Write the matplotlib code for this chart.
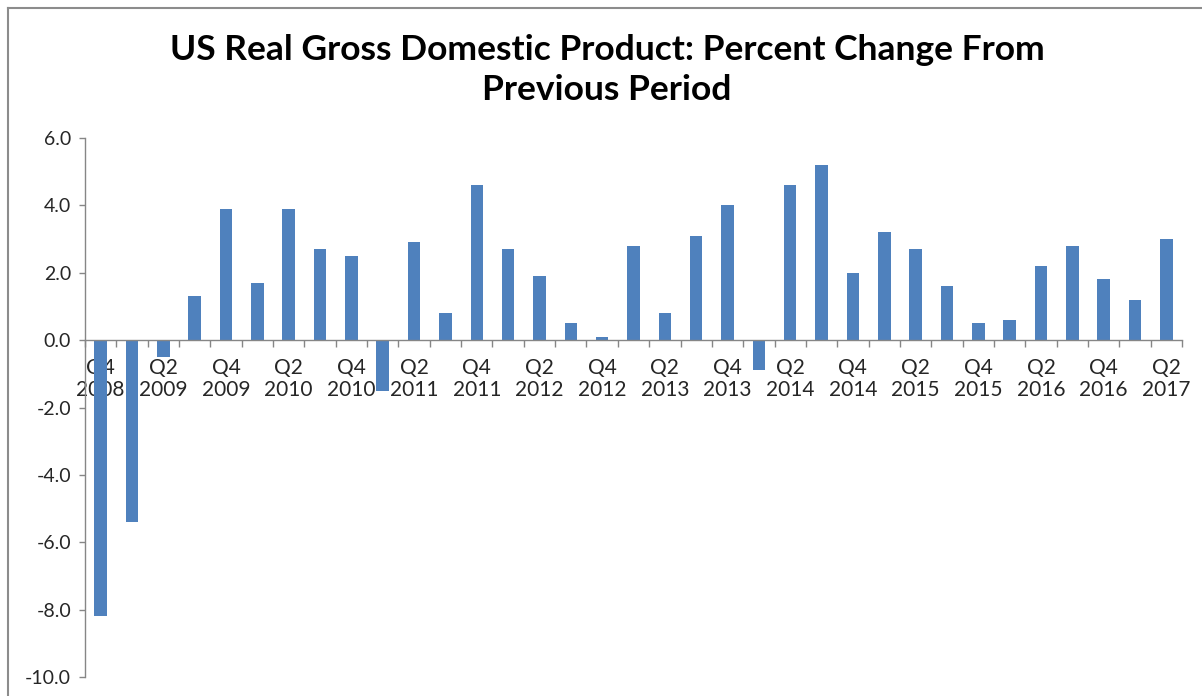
import numpy as np
import matplotlib
matplotlib.use('Agg')
import matplotlib.pyplot as plt
from matplotlib.lines import Line2D

# Data: quarterly real GDP percent change, Q4 2008 .. Q2 2017
quarters = ['Q4 2008',
            'Q1 2009', 'Q2 2009', 'Q3 2009', 'Q4 2009',
            'Q1 2010', 'Q2 2010', 'Q3 2010', 'Q4 2010',
            'Q1 2011', 'Q2 2011', 'Q3 2011', 'Q4 2011',
            'Q1 2012', 'Q2 2012', 'Q3 2012', 'Q4 2012',
            'Q1 2013', 'Q2 2013', 'Q3 2013', 'Q4 2013',
            'Q1 2014', 'Q2 2014', 'Q3 2014', 'Q4 2014',
            'Q1 2015', 'Q2 2015', 'Q3 2015', 'Q4 2015',
            'Q1 2016', 'Q2 2016', 'Q3 2016', 'Q4 2016',
            'Q1 2017', 'Q2 2017']
gdp_change = [-8.2,
              -5.4, -0.5, 1.3, 3.9,
              1.7, 3.9, 2.7, 2.5,
              -1.5, 2.9, 0.8, 4.6,
              2.7, 1.9, 0.5, 0.1,
              2.8, 0.8, 3.1, 4.0,
              -0.9, 4.6, 5.2, 2.0,
              3.2, 2.7, 1.6, 0.5,
              0.6, 2.2, 2.8, 1.8,
              1.2, 3.0]
y_ticks = [6.0, 4.0, 2.0, 0.0, -2.0, -4.0, -6.0, -8.0, -10.0]

font = ['Lato', 'DejaVu Sans']
txt_color = '#262626'
axis_color = '#868686'

fig = plt.figure(figsize=(12.02, 6.96), dpi=100)
ax = fig.add_axes([85 / 1202, 1 - 677 / 696, (1182 - 85) / 1202, (677 - 138) / 696])

x = np.arange(len(quarters))
ax.bar(x, gdp_change, width=0.4, color='#4F81BD', zorder=2)

ax.set_xlim(-0.5, len(quarters) - 0.5)
ax.set_ylim(-10, 6)

# y axis
ax.set_yticks(y_ticks)
ax.set_yticklabels(['%.1f' % v for v in y_ticks], fontfamily=font, fontsize=14, color=txt_color)
ax.tick_params(axis='y', direction='out', length=4, width=1, color=axis_color, pad=6)

# x axis sits at zero, ticks on category boundaries, labels every other quarter
ax.spines['bottom'].set_position(('data', 0))
ax.set_xticks(np.arange(len(quarters) + 1) - 0.5)
ax.set_xticklabels([])
ax.tick_params(axis='x', which='major', direction='out', length=5, width=1, color=axis_color)
lab_idx = x[::2]
ax.set_xticks(lab_idx, minor=True)
ax.set_xticklabels([quarters[i].replace(' ', '\n') for i in lab_idx], minor=True,
                   fontfamily=font, fontsize=15, color=txt_color, linespacing=1.1)
ax.tick_params(axis='x', which='minor', length=0, pad=13)

for s in ['top', 'right']:
    ax.spines[s].set_visible(False)
for s in ['left', 'bottom']:
    ax.spines[s].set_color(axis_color)
    ax.spines[s].set_linewidth(1)

fig.text(0.505, 1 - 70 / 696, 'US Real Gross Domestic Product: Percent Change From\nPrevious Period',
         ha='center', va='center', fontsize=25.5, fontweight='bold', fontfamily=font,
         color='black', linespacing=1.3)

# chart frame (only top and left edges visible)
fig.add_artist(Line2D([7.5 / 1202, 7.5 / 1202], [0, 1 - 8 / 696], transform=fig.transFigure,
                      color='#8c8c8c', lw=1.5))
fig.add_artist(Line2D([7.5 / 1202, 1], [1 - 8 / 696, 1 - 8 / 696], transform=fig.transFigure,
                      color='#8c8c8c', lw=1.5))

fig.savefig('out.png', dpi=100)
